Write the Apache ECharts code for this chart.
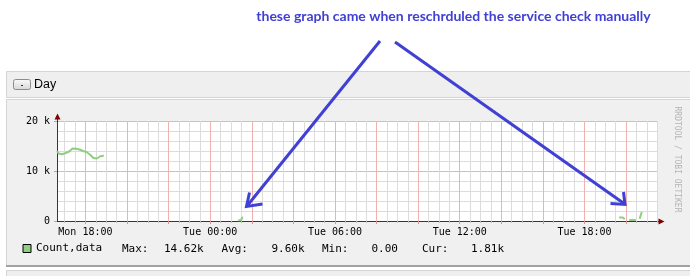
<!DOCTYPE html>
<html>
<head>
<meta charset="utf-8">
<script src="https://cdn.jsdelivr.net/npm/echarts@6.0.0/dist/echarts.min.js"></script>
<style>
html,body{margin:0;padding:0;background:#fff;}
#chart{width:690px;height:276px;}
</style>
</head>
<body>
<div id="chart"></div>
<script>
// ---- data ----
const xStartMinute = -82;      // minutes relative to Mon 18:00 (left edge)
const xEndMinute = 1652;       // right edge
const xTickMinutes = [0, 360, 720, 1080, 1440];
const xTickLabels = ['Mon 18:00', 'Tue 00:00', 'Tue 06:00', 'Tue 12:00', 'Tue 18:00'];
const yTickValues = [0, 10000, 20000];
const yTickLabels = ['0', '10 k', '20 k'];
const seriesName = 'Count,data';
// null = gap in the line
const countMinutes = [-82,-77,-72,-67,-62,-57,-52,-47,-42,-37,-32,-27,-22,-17,-12,-7,-2,3,8,13,18,23,28,33,38,43,48,53,
  60,
  441,449,452,455,
  460,
  1540,1551,1553,1556,
  1562,
  1569,1588,
  1594,
  1599,1604,1605,1607];
const countValues = [14000,13500,13300,13350,13450,13600,13750,13900,14250,14500,14620,14450,14350,14300,14150,14000,13950,13800,13500,13300,12950,12600,12450,12500,12550,12950,13050,13050,
  null,
  150,150,650,700,
  null,
  680,680,400,340,
  null,
  200,200,
  null,
  450,480,1810,1810];
const statLabels = ['Max:', 'Avg:', 'Min:', 'Cur:'];
const statValues = ['14.62k', '9.60k', '0.00', '1.81k'];
const annotationText = 'these graph came when reschrduled the service check manually';
const panelTitle = 'Day';
const watermark = 'RRDTOOL / TOBI OETIKER';

// ---- build ----
const categories = [];
for (let m = xStartMinute; m <= xEndMinute; m++) categories.push(String(m));
const seriesData = countMinutes.map((m, i) => [String(m), countValues[i]]);

const mono = 'DejaVu Sans Mono';
const minorGrid = '#dcdcdc';
const majorGrid = '#f1b1b1';
const axisColor = '#3c3434';
const arrowRed = '#7f0000';
const green = '#8fcf80';
const blue = '#4040d4';

const chart = echarts.init(document.getElementById('chart'), null, {renderer: 'canvas'});

const isMinor = (i, v) => (+v) % 30 === 0;
const isMajor = (i, v) => (+v) % 120 === 0;
const isLabel = (i, v) => xTickMinutes.indexOf(+v) >= 0;

const statLabelX = [122, 221.5, 322, 422];
const statValueX = [164, 271.5, 371.5, 471];

const graphics = [
  // header bar
  {type:'rect', z:-20, shape:{x:6.5,y:71.5,width:690,height:26}, style:{fill:'#efefef', stroke:'#d4d4d4', lineWidth:1}},
  // button
  {type:'rect', z:-19, shape:{x:13.5,y:79.5,width:17,height:10,r:2},
    style:{fill:new echarts.graphic.LinearGradient(0,0,0,1,[{offset:0,color:'#fbfbfb'},{offset:1,color:'#d6d6d6'}]), stroke:'#8c8c8c', lineWidth:1}},
  {type:'rect', z:-18, shape:{x:21,y:85,width:2,height:1}, style:{fill:'#333'}},
  {type:'text', z:-18, x:34, y:84.5, style:{text:panelTitle, font:'12.5px "Liberation Sans", Arial, sans-serif', fill:'#000', verticalAlign:'middle'}},
  // graph panel
  {type:'rect', z:-20, shape:{x:6.5,y:99.5,width:690,height:166}, style:{fill:'#f0f0f0', stroke:'#d4d4d4', lineWidth:1}},
  {type:'rect', z:-19, shape:{x:6,y:265,width:690,height:2}, style:{fill:'#a2a2a2'}},
  // bottom bar
  {type:'rect', z:-20, shape:{x:6.5,y:270.5,width:690,height:10}, style:{fill:'#efefef', stroke:'#d4d4d4', lineWidth:1}},
  // plot canvas
  {type:'rect', z:-15, shape:{x:57,y:121,width:601,height:100}, style:{fill:'#ffffff'}},
  // axis extensions and arrows
  {type:'line', z:10, shape:{x1:57.5,y1:121,x2:57.5,y2:117}, style:{stroke:axisColor, lineWidth:1}},
  {type:'polygon', z:10, shape:{points:[[57.5,113.5],[54.5,119.5],[60.5,119.5]]}, style:{fill:arrowRed}},
  {type:'line', z:10, shape:{x1:658,y1:221.5,x2:660,y2:221.5}, style:{stroke:axisColor, lineWidth:1}},
  {type:'polygon', z:10, shape:{points:[[664.5,221.5],[658.5,218.5],[658.5,224.5]]}, style:{fill:arrowRed}},
  // watermark
  {type:'text', z:5, x:677.5, y:159.5, rotation:-Math.PI/2,
    style:{text:watermark, font:'8px "DejaVu Sans Mono", monospace', fill:'#b4b4b4', align:'center', verticalAlign:'middle'}},
  // annotation text
  {type:'text', z:100, x:453.5, y:16, style:{text:annotationText, font:'bold 14px Lato, "Open Sans", sans-serif', fill:blue, align:'center', verticalAlign:'middle'}},
  // arrows
  {type:'polyline', z:100, shape:{points:[[380,41],[247,206]]}, style:{stroke:blue, lineWidth:3, fill:null}},
  {type:'polyline', z:100, shape:{points:[[249.5,192.5],[246.5,206.5],[262.5,204]]}, style:{stroke:blue, lineWidth:3, fill:null, lineJoin:'miter'}},
  {type:'polyline', z:100, shape:{points:[[395,42],[624,203.5]]}, style:{stroke:blue, lineWidth:3, fill:null}},
  {type:'polyline', z:100, shape:{points:[[623.5,192],[625,204.5],[610.5,203.5]]}, style:{stroke:blue, lineWidth:3, fill:null, lineJoin:'miter'}}
];
statLabels.forEach((s, i) => {
  graphics.push({type:'text', z:5, x:statLabelX[i], y:249.5, style:{text:s, font:'11px "DejaVu Sans Mono", monospace', fill:'#000', verticalAlign:'middle'}});
  graphics.push({type:'text', z:5, x:statValueX[i], y:249.5, style:{text:statValues[i], font:'11px "DejaVu Sans Mono", monospace', fill:'#000', verticalAlign:'middle'}});
});

const baseX = {
  type:'category', data:categories, boundaryGap:false, position:'bottom', offset:0,
  axisLine:{show:false}, axisLabel:{show:false}, axisTick:{show:false}, splitLine:{show:false}
};

chart.setOption({
  animation:false,
  backgroundColor:'#ffffff',
  textStyle:{fontFamily:mono},
  grid:{left:57, right:32, top:121, bottom:55, containLabel:false},
  legend:{
    left:22.5, top:243, padding:0, itemWidth:8, itemHeight:8, selectedMode:false,
    data:[{name:seriesName, icon:'rect', itemStyle:{color:green, borderColor:'#000', borderWidth:1}}],
    textStyle:{fontFamily:mono, fontSize:11, color:'#000'}
  },
  xAxis:[
    Object.assign({}, baseX, {
      axisTick:{show:true, interval:isMinor, length:2, lineStyle:{color:'#bbbbbb'}},
      splitLine:{show:true, interval:isMinor, lineStyle:{color:minorGrid, width:1}}
    }),
    Object.assign({}, baseX, {
      axisTick:{show:true, interval:isMajor, length:3, lineStyle:{color:'#e09090'}},
      splitLine:{show:true, interval:isMajor, lineStyle:{color:majorGrid, width:1}}
    }),
    Object.assign({}, baseX, {
      axisLine:{show:true, onZero:false, lineStyle:{color:axisColor, width:1}},
      axisLabel:{show:true, interval:isLabel, margin:6, fontFamily:mono, fontSize:10, color:'#000',
        formatter:(v) => xTickLabels[xTickMinutes.indexOf(+v)] || ''}
    })
  ],
  yAxis:[
    {type:'value', min:0, max:20000, interval:2000, position:'left', offset:0,
      axisLine:{show:false}, axisTick:{show:false}, axisLabel:{show:false},
      splitLine:{show:true, lineStyle:{color:minorGrid, width:1}}},
    {type:'value', min:0, max:20000, interval:10000, position:'left', offset:0,
      axisLine:{show:true, onZero:false, lineStyle:{color:axisColor, width:1}},
      axisTick:{show:true, length:3, lineStyle:{color:'#e09090'}},
      axisLabel:{show:true, margin:7, fontFamily:mono, fontSize:10, color:'#000',
        formatter:(v) => yTickLabels[yTickValues.indexOf(v)]},
      splitLine:{show:true, lineStyle:{color:majorGrid, width:1}}}
  ],
  series:[{
    name:seriesName, type:'line', xAxisIndex:2, yAxisIndex:1,
    data:seriesData, showSymbol:false, symbol:'none', connectNulls:false,
    lineStyle:{color:green, width:2}, itemStyle:{color:green}, z:3
  }],
  graphic:{elements:graphics}
});
</script>
</body>
</html>
